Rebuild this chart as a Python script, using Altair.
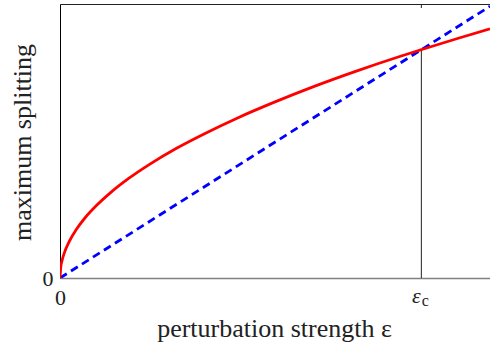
import altair as alt
import pandas as pd

# red curve (maximum splitting); eps in units of eps_c
red_eps = [0, 0.002, 0.006, 0.012, 0.025, 0.045, 0.07, 0.1, 0.14, 0.19, 0.25,
           0.32, 0.4, 0.49, 0.59, 0.7, 0.82, 0.94, 1.0, 1.1, 1.19]
red_val = [0, 0.045, 0.078, 0.11, 0.158, 0.212, 0.265, 0.316, 0.374, 0.436, 0.5,
           0.566, 0.632, 0.7, 0.768, 0.837, 0.906, 0.97, 1.0, 1.049, 1.091]
# blue dashed straight line
blue_eps = [0, 1.19]
blue_val = [0, 1.19]
# critical point
eps_c = [1.0]
eps_c_val = [1.0]

X_DOM = [0, 1.19]
Y_DOM = [0, 1.2]
FONT = "Liberation Serif"
FS = 22
TFS = 26

red_df = pd.DataFrame({"eps": red_eps, "val": red_val})
blue_df = pd.DataFrame({"eps": blue_eps, "val": blue_val})
c_df = pd.DataFrame({"eps": eps_c, "val": eps_c_val, "zero": [0.0]})

xs = alt.Scale(domain=X_DOM, nice=False, zero=False)
ys = alt.Scale(domain=Y_DOM, nice=False, zero=False)

y_axis = alt.Axis(values=[0], format="d", ticks=False, tickSize=0, grid=False,
                  domainColor="#000000", domainWidth=1, labelPadding=7,
                  labelFlush=False,
                  labelFont=FONT, labelFontSize=FS, labelColor="#222222",
                  title="maximum splitting", titleFont=FONT, titleFontSize=TFS,
                  titleFontWeight="normal", titleColor="#222222",
                  titleAngle=-90, titleX=-30, titleY=138, titleAlign="center",
                  titleBaseline="alphabetic")

x_axis = alt.Axis(values=[0], format="d", ticks=False, tickSize=0, grid=False,
                  domainColor="#808080", domainWidth=1.5, labelPadding=26,
                  labelBaseline="alphabetic", labelFlush=False,
                  labelFont=FONT, labelFontSize=FS, labelColor="#222222",
                  title="perturbation strength ε", titleFont=FONT, titleFontSize=TFS,
                  titleFontWeight="normal", titleColor="#222222",
                  titleX=214, titleY=58, titleBaseline="alphabetic")

x_top = alt.Axis(orient="top", values=[], ticks=False, labels=False, grid=False,
                 domainColor="#222222", domainWidth=1, title=None)

red = alt.Chart(red_df).mark_line(color="#ff0000", strokeWidth=2.8,
                                  interpolate="monotone", clip=True).encode(
    x=alt.X("eps:Q", scale=xs, axis=x_axis),
    y=alt.Y("val:Q", scale=ys, axis=y_axis),
)

blue = alt.Chart(blue_df).mark_line(color="#0000ff", strokeWidth=2.8,
                                    strokeDash=[8, 5], clip=True).encode(
    x=alt.X("eps:Q", scale=xs, axis=x_top),
    y=alt.Y("val:Q", scale=ys, axis=y_axis),
)

drop = alt.Chart(c_df).mark_rule(color="#222222", strokeWidth=1).encode(
    x=alt.X("eps:Q", scale=xs, axis=None),
    y=alt.Y("zero:Q", scale=ys, axis=y_axis),
    y2="val:Q",
)

top_tick = alt.Chart(c_df).mark_rule(color="#222222", strokeWidth=1).encode(
    x=alt.X("eps:Q", scale=xs, axis=None),
    y=alt.value(0),
    y2=alt.value(4),
)

eps_lbl = alt.Chart(c_df).mark_text(text="ε", font=FONT, fontSize=FS,
                                    fontStyle="italic", color="#222222",
                                    align="center", baseline="alphabetic",
                                    dx=-5).encode(
    x=alt.X("eps:Q", scale=xs, axis=None),
    y=alt.value(299),
)
c_lbl = alt.Chart(c_df).mark_text(text="c", font=FONT, fontSize=16,
                                  color="#222222", align="center",
                                  baseline="alphabetic", dx=4).encode(
    x=alt.X("eps:Q", scale=xs, axis=None),
    y=alt.value(302),
)

chart = alt.layer(drop, top_tick, blue, red, eps_lbl, c_lbl).resolve_axis(
    x="independent"
).properties(
    width=430, height=274,
    autosize=alt.AutoSizeParams(type="none"),
    padding={"left": 60, "top": 4, "right": 0, "bottom": 64},
).configure_view(stroke=None).configure(background="white")

chart.save("out.html", embed_options={"renderer": "svg", "actions": False})
